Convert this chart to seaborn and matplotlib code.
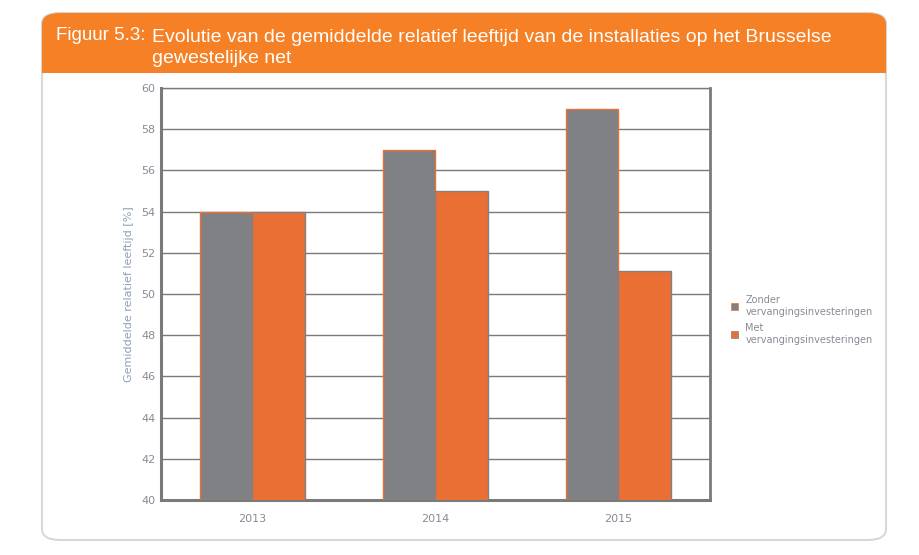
import pandas as pd
import seaborn as sns
import matplotlib.pyplot as plt
from matplotlib.patches import FancyBboxPatch, Rectangle, Patch

# data
jaren = ['2013', '2014', '2015']
zonder = [54.0, 57.0, 59.0]
met = [54.0, 55.0, 51.1]
reeksen = ['Zonder\nvervangingsinvesteringen', 'Met\nvervangingsinvesteringen']
y_ticks = [40, 42, 44, 46, 48, 50, 52, 54, 56, 58, 60]

df = pd.DataFrame({
    'jaar': jaren * 2,
    'waarde': zonder + met,
    'reeks': [reeksen[0]] * 3 + [reeksen[1]] * 3,
})

grijs = '#808184'
oranje = '#E96F34'
kop = '#F58025'
tekst = '#8a8a96'

sns.set_style('white')
plt.rcParams['font.family'] = ['DejaVu Sans']

fig = plt.figure(figsize=(9.19, 5.55), dpi=100)
W, H = 919, 555

# card background + header
card = FancyBboxPatch((42 / W, 1 - 540 / H), (886 - 42) / W, (540 - 13) / H,
                      boxstyle='round,pad=0,rounding_size=0.02', transform=fig.transFigure,
                      facecolor='white', edgecolor='#d8d8d8', linewidth=1.5, zorder=0)
fig.patches.append(card)
header = FancyBboxPatch((42 / W, 1 - 73 / H), (886 - 42) / W, (73 - 13) / H,
                        boxstyle='round,pad=0,rounding_size=0.02', transform=fig.transFigure,
                        facecolor=kop, edgecolor='none', zorder=1)
fig.patches.append(header)
fig.patches.append(Rectangle((42 / W, 1 - 73 / H), (886 - 42) / W, 20 / H,
                             transform=fig.transFigure, facecolor=kop, edgecolor='none', zorder=1))

titel_font = ['Liberation Sans', 'DejaVu Sans']
fig.text(56 / W, 1 - 36 / H, 'Figuur 5.3:', color='white', fontsize=13.5,
         family=titel_font, va='center', zorder=3)
fig.text(152 / W, 1 - 48 / H,
         'Evolutie van de gemiddelde relatief leeftijd van de installaties op het Brusselse\ngewestelijke net',
         color='white', fontsize=14, family=titel_font, va='center', linespacing=1.35, zorder=3)

ax = fig.add_axes([161 / W, 1 - 500 / H, (710 - 161) / W, (500 - 88) / H])
ax.set_zorder(5)
sns.barplot(data=df, x='jaar', y='waarde', hue='reeks', palette=[grijs, oranje],
            saturation=1, width=0.57, ax=ax, legend=False, zorder=3)

# bar edges: grey bars get orange edge, orange bars get grey edge
for i, bar in enumerate(ax.patches):
    bar.set_edgecolor(oranje if i < 3 else grijs)
    bar.set_linewidth(1)

ax.set_ylim(40, 60)
ax.set_xlim(-0.5, 2.5)
ax.set_yticks(y_ticks)
ax.set_yticklabels([str(t) for t in y_ticks])
ax.yaxis.grid(True, color='#7a7a7a', linewidth=1, zorder=0)
ax.set_axisbelow(True)
ax.set_xlabel('')
ax.set_ylabel('Gemiddelde relatief leeftijd [%]', color='#8fa0b8', fontsize=8, labelpad=5)

ax.set_xticks([-0.5, 0.5, 1.5, 2.5], minor=True)
ax.tick_params(axis='x', which='major', length=0, labelsize=8, labelcolor=tekst, pad=10)
ax.tick_params(axis='x', which='minor', length=4, width=1, color='#7a7a7a', direction='out')
ax.tick_params(axis='y', length=3, width=1, color='#7a7a7a', labelsize=8, labelcolor=tekst, pad=1)

for kant in ['left', 'bottom']:
    ax.spines[kant].set_color('#7a7a7a')
    ax.spines[kant].set_linewidth(2.2)
ax.spines['right'].set_color('#7a7a7a')
ax.spines['right'].set_linewidth(2)
ax.spines['top'].set_color('#7a7a7a')
ax.spines['top'].set_linewidth(1)

handles = [Patch(facecolor=grijs, edgecolor=oranje, linewidth=0.5),
           Patch(facecolor=oranje, edgecolor=grijs, linewidth=0.5)]
fig.legend(handles, reeksen, loc='center left', bbox_to_anchor=(722 / W, 1 - 320 / H),
           frameon=False, fontsize=7, handlelength=0.7, handleheight=0.7,
           handletextpad=0.8, labelspacing=0.6, labelcolor=tekst)

fig.savefig('out.png', dpi=100)
